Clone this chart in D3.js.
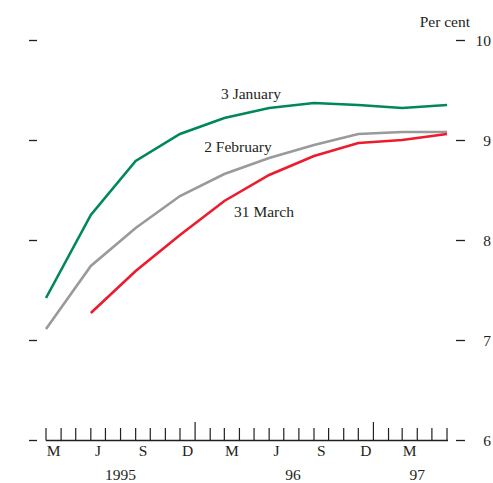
<!DOCTYPE html>
<html>
<head>
<meta charset="utf-8">
<script src="https://cdn.jsdelivr.net/npm/d3@7"></script>
<style>
  body { margin: 0; background: #fff; }
  text { font-family: "Liberation Serif", "Times New Roman", serif; fill: #231f20; }
</style>
</head>
<body>
<script>
// maturity dates (quarterly points on the curves)
var maturities = ["1995-03", "1995-06", "1995-09", "1995-12", "1996-03",
                  "1996-06", "1996-09", "1996-12", "1997-03", "1997-06"]

var jan3 = [7.42, 8.25, 8.79, 9.06, 9.22, 9.32, 9.37, 9.35, 9.32, 9.35]
var feb2 = [7.11, 7.74, 8.12, 8.44, 8.66, 8.82, 8.95, 9.06, 9.08, 9.08]
var mar31 = [null, 7.27, 7.69, 8.05, 8.39, 8.65, 8.84, 8.97, 9.00, 9.06]

var yTicks = [6, 7, 8, 9, 10]
var monthLabels = {2: "M", 5: "J", 8: "S", 11: "D"}
var yearLabels = [["1995", "1995-08-01", 480], ["96", "1996-07-20", 480], ["97", "1997-04-01", 480]]

var width = 493, height = 483

var parse = d3.utcParse("%Y-%m")
var x = d3.scaleUtc()
    .domain([new Date(Date.UTC(1995, 2, 1)), new Date(Date.UTC(1997, 5, 1))])
    .range([46, 447])
var y = d3.scaleLinear().domain([6, 10]).range([440, 40])

var svg = d3.select("body").append("svg")
    .attr("width", width)
    .attr("height", height)

// y ticks both sides
svg.selectAll(".ltick").data(yTicks).enter().append("line")
    .attr("x1", 29).attr("x2", 37)
    .attr("y1", d => y(d) + 0.5).attr("y2", d => y(d) + 0.5)
    .attr("stroke", "#231f20").attr("stroke-width", 1.3)

svg.selectAll(".rtick").data(yTicks).enter().append("line")
    .attr("x1", 456).attr("x2", 465)
    .attr("y1", d => y(d) + 0.5).attr("y2", d => y(d) + 0.5)
    .attr("stroke", "#231f20").attr("stroke-width", 1.3)

svg.selectAll(".rlab").data(yTicks).enter().append("text")
    .attr("x", 491).attr("y", d => y(d) + 5.5)
    .attr("text-anchor", "end")
    .attr("font-size", 15.5)
    .text(d => d)

svg.append("text")
    .attr("x", 470).attr("y", 27)
    .attr("text-anchor", "end")
    .attr("font-size", 15.5)
    .text("Per cent")

// time axis
var months = d3.utcMonth.range(x.domain()[0], d3.utcMonth.offset(x.domain()[1], 1))
var base = y(6) + 0.5

svg.append("line")
    .attr("x1", x.range()[0]).attr("x2", x.range()[1] + 1)
    .attr("y1", base).attr("y2", base)
    .attr("stroke", "#231f20").attr("stroke-width", 1.3)

svg.selectAll(".mtick").data(months).enter().append("line")
    .attr("x1", d => x(d)).attr("x2", d => x(d))
    .attr("y1", base)
    .attr("y2", d => d.getUTCMonth() == 0 ? 422 : 428)
    .attr("stroke", "#231f20").attr("stroke-width", 1.2)

var labelled = months.filter(d => monthLabels[d.getUTCMonth()] && d < x.domain()[1])
svg.selectAll(".mlab").data(labelled).enter().append("text")
    .attr("x", d => (x(d) + x(d3.utcMonth.offset(d, 1))) / 2)
    .attr("y", 456)
    .attr("text-anchor", "middle")
    .attr("font-size", 15.5)
    .text(d => monthLabels[d.getUTCMonth()])

svg.selectAll(".ylab").data(yearLabels).enter().append("text")
    .attr("x", d => x(new Date(d[1])))
    .attr("y", d => d[2])
    .attr("text-anchor", "middle")
    .attr("font-size", 15.5)
    .text(d => d[0])

// curves
var series = [
    {name: "3 January", values: jan3, color: "#00875a", lx: 251, ly: 99},
    {name: "2 February", values: feb2, color: "#9a999b", lx: 238, ly: 152},
    {name: "31 March", values: mar31, color: "#ec1c2e", lx: 264, ly: 217}
]

var line = d3.line()
    .defined(d => d.v != null)
    .x(d => x(parse(d.m)))
    .y(d => y(d.v))

series.forEach(s => {
    var pts = maturities.map((m, i) => ({m: m, v: s.values[i]}))
    svg.append("path")
        .attr("d", line(pts))
        .attr("fill", "none")
        .attr("stroke", s.color)
        .attr("stroke-width", 2.6)
        .attr("stroke-linejoin", "miter")
    svg.append("text")
        .attr("x", s.lx).attr("y", s.ly)
        .attr("text-anchor", "middle")
        .attr("font-size", 15.5)
        .text(s.name)
})
</script>
</body>
</html>
